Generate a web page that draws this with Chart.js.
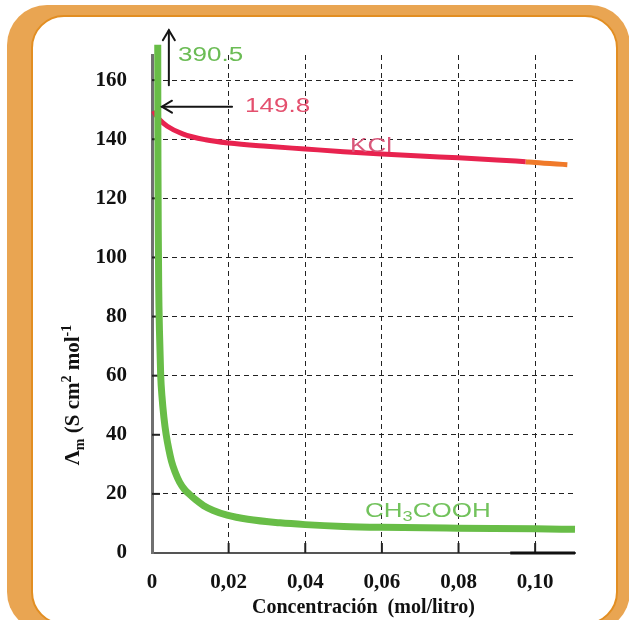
<!DOCTYPE html>
<html>
<head>
<meta charset="utf-8">
<script src="https://cdn.jsdelivr.net/npm/chart.js@4/dist/chart.umd.min.js"></script>
<style>
html,body{margin:0;padding:0;background:#fff;width:629px;height:620px;overflow:hidden;}
#outer{position:absolute;left:7px;top:5px;width:623px;height:627px;background:#E9A552;border-radius:40px;}
#inner{position:absolute;left:31px;top:15px;width:587px;height:610px;background:#fff;border:2px solid #E28E22;border-radius:33px;box-sizing:border-box;}
#c{position:absolute;left:0;top:0;}
</style>
</head>
<body>
<div id="outer"></div>
<div id="inner"></div>
<canvas id="c" width="629" height="620"></canvas>
<script>
// ---- data ----
const xTickValues = [0, 0.02, 0.04, 0.06, 0.08, 0.10];
const xTickLabels = ['0', '0,02', '0,04', '0,06', '0,08', '0,10'];
const yTickValues = [0, 20, 40, 60, 80, 100, 120, 140, 160];
const yTickLabels = ['0', '20', '40', '60', '80', '100', '120', '140', '160'];

// KCl (strong electrolyte)
const concKCl   = [0.0004, 0.001, 0.002, 0.004, 0.008, 0.014, 0.020, 0.030, 0.040, 0.050, 0.060, 0.070, 0.080, 0.090, 0.0975];
const lambdaKCl = [149.6, 148.2, 146.6, 144.4, 141.8, 139.8, 138.7, 137.6, 136.7, 135.8, 135.0, 134.3, 133.7, 133.0, 132.4];
// KCl tail segment drawn in orange
const concKClTail   = [0.0975, 0.1000, 0.1084];
const lambdaKClTail = [132.4, 132.1, 131.4];

// CH3COOH (weak electrolyte)
const concAcetic   = [0.00150, 0.00152, 0.00156, 0.00163, 0.00175, 0.00195, 0.00227, 0.0026, 0.0031, 0.0037, 0.0044, 0.0051, 0.0060, 0.0072, 0.0085, 0.0099, 0.0115, 0.0135, 0.0160, 0.0196, 0.0250, 0.0334, 0.040, 0.050, 0.060, 0.080, 0.100, 0.1104];
const lambdaAcetic = [172, 150, 130, 110, 90, 75, 60, 53, 46, 40, 35, 31, 27.5, 24, 21.5, 19.7, 17.9, 16.0, 14.4, 12.8, 11.4, 10.2, 9.6, 9.0, 8.7, 8.4, 8.2, 8.0];

// limiting molar conductivities shown on the chart
const limitLabels = ['390.5', '149.8'];

const toXY = (xs, ys) => xs.map((x, i) => ({x: x, y: ys[i]}));

const SERIF = '"Liberation Serif", "Times New Roman", serif';
const SANS = '"Liberation Sans", Arial, sans-serif';

function drawRich(ctx, parts, x, y, size, color, hscale) {
  ctx.save();
  ctx.translate(x, y);
  ctx.scale(hscale, 1);
  ctx.fillStyle = color;
  ctx.textBaseline = 'middle';
  ctx.textAlign = 'left';
  let cx = 0;
  parts.forEach(p => {
    const s = p.mode === 'n' ? size : Math.round(size * 0.68);
    ctx.font = s + 'px ' + SANS;
    const dy = p.mode === 'sub' ? size * 0.28 : (p.mode === 'sup' ? -size * 0.3 : 0);
    ctx.fillText(p.t, cx, dy);
    cx += ctx.measureText(p.t).width;
  });
  ctx.restore();
}

const decorPlugin = {
  id: 'decor',
  beforeDatasetsDraw(chart) {
    const ctx = chart.ctx, xs = chart.scales.x, ys = chart.scales.y;
    const y0 = ys.getPixelForValue(0);
    const x0 = xs.getPixelForValue(0);
    ctx.save();
    ctx.strokeStyle = '#222';
    ctx.lineWidth = 2;
    xTickValues.forEach(v => {
      if (v === 0) return;
      const px = xs.getPixelForValue(v);
      ctx.beginPath(); ctx.moveTo(px, y0); ctx.lineTo(px, y0 - 10); ctx.stroke();
    });
    yTickValues.forEach(v => {
      if (v === 0) return;
      const py = ys.getPixelForValue(v);
      ctx.beginPath(); ctx.moveTo(x0, py); ctx.lineTo(x0 + 8, py); ctx.stroke();
    });
    ctx.strokeStyle = '#111';
    ctx.lineWidth = 3;
    ctx.beginPath();
    ctx.moveTo(xs.getPixelForValue(0.0935), y0);
    ctx.lineTo(xs.getPixelForValue(0.1104), y0);
    ctx.stroke();
    ctx.restore();
  },
  afterDatasetsDraw(chart) {
    const ctx = chart.ctx, xs = chart.scales.x, ys = chart.scales.y;
    const X = v => xs.getPixelForValue(v), Y = v => ys.getPixelForValue(v);
    ctx.save();
    ctx.strokeStyle = '#151515';
    ctx.lineWidth = 2;
    ctx.lineCap = 'round';
    const ax = X(0.0044), ayb = Y(158.3), ayt = Y(176.9);
    ctx.beginPath(); ctx.moveTo(ax, ayb); ctx.lineTo(ax, ayt); ctx.stroke();
    ctx.beginPath(); ctx.moveTo(ax - 6, ayt + 10); ctx.lineTo(ax, ayt); ctx.lineTo(ax + 6, ayt + 10); ctx.stroke();
    const ly = Y(151), lx1 = X(0.0209), lx0 = X(0.0026);
    ctx.beginPath(); ctx.moveTo(lx1, ly); ctx.lineTo(lx0, ly); ctx.stroke();
    ctx.beginPath(); ctx.moveTo(lx0 + 10, ly - 6); ctx.lineTo(lx0, ly); ctx.lineTo(lx0 + 10, ly + 6); ctx.stroke();
    ctx.restore();

    drawRich(ctx, [{t: limitLabels[0], mode: 'n'}], X(0.0068), Y(168.5), 20, '#6BBC55', 1.3);
    drawRich(ctx, [{t: limitLabels[1], mode: 'n'}], X(0.0243), Y(151), 20, '#E4506E', 1.3);
    drawRich(ctx, [{t: 'KCl', mode: 'n'}], X(0.0517), Y(137.4), 20, '#D9577A', 1.3);
    drawRich(ctx, [{t: 'CH', mode: 'n'}, {t: '3', mode: 'sub'}, {t: 'COOH', mode: 'n'}], X(0.0556), Y(13.9), 20, '#72C25C', 1.3);
  },
  afterDraw(chart) {
    const ctx = chart.ctx;
    const parts = [
      {t: 'Λ', mode: 'n'}, {t: 'm', mode: 'sub'}, {t: ' (S cm', mode: 'n'},
      {t: '2', mode: 'sup'}, {t: ' mol', mode: 'n'}, {t: '-1', mode: 'sup'}
    ];
    const base = 21, small = 14;
    ctx.save();
    ctx.translate(79, 395);
    ctx.rotate(-Math.PI / 2);
    ctx.fillStyle = '#111';
    ctx.textBaseline = 'alphabetic';
    ctx.textAlign = 'left';
    let total = 0;
    parts.forEach(p => {
      ctx.font = 'bold ' + (p.mode === 'n' ? base : small) + 'px ' + SERIF;
      p.w = ctx.measureText(p.t).width;
      total += p.w;
    });
    let cx = -total / 2;
    parts.forEach(p => {
      ctx.font = 'bold ' + (p.mode === 'n' ? base : small) + 'px ' + SERIF;
      const dy = p.mode === 'sup' ? -8 : (p.mode === 'sub' ? 5 : 0);
      ctx.fillText(p.t, cx, dy);
      cx += p.w;
    });
    ctx.restore();
  }
};

const gridColor = c => (c.tick && c.tick.value === 0) ? 'rgba(0,0,0,0)' : '#222';

new Chart(document.getElementById('c'), {
  type: 'line',
  data: {
    datasets: [
      {label: 'CH3COOH', data: toXY(concAcetic, lambdaAcetic), borderColor: '#68BD47', borderWidth: 7,
       pointRadius: 0, cubicInterpolationMode: 'monotone', clip: false, borderCapStyle: 'butt', borderJoinStyle: 'round'},
      {label: 'KCl', data: toXY(concKCl, lambdaKCl), borderColor: '#E8234F', borderWidth: 5,
       pointRadius: 0, cubicInterpolationMode: 'monotone', clip: false, borderJoinStyle: 'round'},
      {label: 'KCl tail', data: toXY(concKClTail, lambdaKClTail), borderColor: '#F07A2A', borderWidth: 5,
       pointRadius: 0, cubicInterpolationMode: 'monotone', clip: false}
    ]
  },
  options: {
    responsive: false,
    animation: false,
    devicePixelRatio: 1,
    layout: {padding: {left: 0, right: 54, top: 55, bottom: 0}},
    plugins: {legend: {display: false}, tooltip: {enabled: false}},
    scales: {
      x: {
        type: 'linear', min: 0, max: 0.1104,
        afterBuildTicks: s => { s.ticks = xTickValues.map(v => ({value: v})); },
        afterFit: s => { s.height = 67; },
        ticks: {
          callback: v => xTickLabels[xTickValues.indexOf(v)],
          font: {family: SERIF, weight: 'bold', size: 21}, color: '#111',
          padding: 17, maxRotation: 0, autoSkip: false
        },
        grid: {color: gridColor, lineWidth: 1, drawTicks: false},
        border: {color: '#555', width: 2, dash: [5, 4]},
        title: {display: true, text: 'Concentración  (mol/litro)', color: '#111',
                font: {family: SERIF, weight: 'bold', size: 20}, padding: {top: 0, bottom: 0}}
      },
      y: {
        type: 'linear', min: 0, max: 168.5,
        afterBuildTicks: s => { s.ticks = yTickValues.map(v => ({value: v})); },
        afterFit: s => { s.width = 152; },
        ticks: {
          callback: v => yTickLabels[yTickValues.indexOf(v)],
          font: {family: SERIF, weight: 'bold', size: 21}, color: '#111',
          padding: 25, autoSkip: false
        },
        grid: {color: gridColor, lineWidth: 1, drawTicks: false},
        border: {color: '#707070', width: 3, dash: [5, 4]}
      }
    }
  },
  plugins: [decorPlugin]
});
</script>
</body>
</html>
